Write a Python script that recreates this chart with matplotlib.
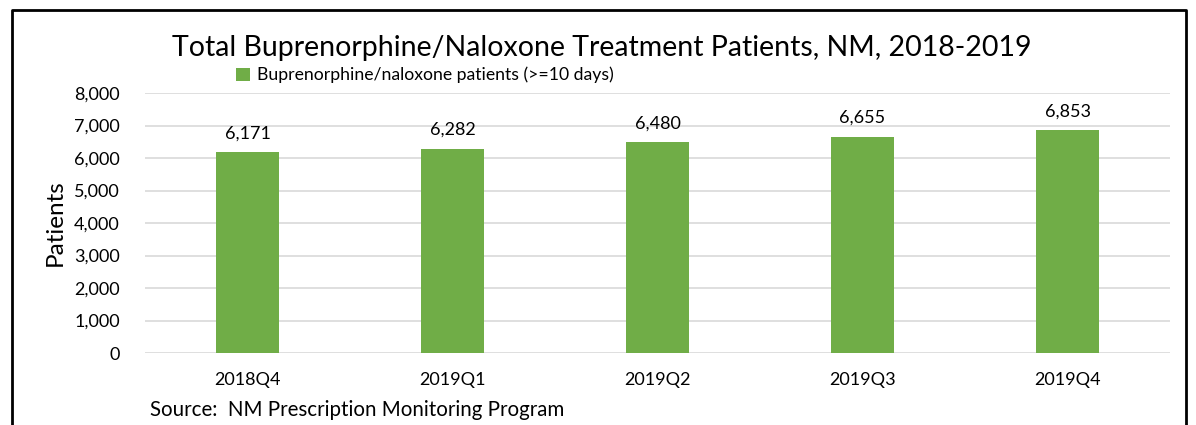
import matplotlib.pyplot as plt
from matplotlib.lines import Line2D
import numpy as np

# Data
quarters = ['2018Q4', '2019Q1', '2019Q2', '2019Q3', '2019Q4']
patients = [6171, 6282, 6480, 6655, 6853]
yticks = [0, 1000, 2000, 3000, 4000, 5000, 6000, 7000, 8000]

plt.rcParams['font.family'] = ['Lato', 'DejaVu Sans']

fig = plt.figure(figsize=(11.96, 4.25), dpi=100)
ax = fig.add_axes([145/1196, 1 - 353/425, 1025/1196, 260/425])

x = np.arange(len(quarters))
bars = ax.bar(x, patients, width=0.31, color='#70AD47', zorder=3,
              label='Buprenorphine/naloxone patients (>=10 days)')

# value labels above bars
for xi, v in zip(x, patients):
    ax.text(xi, v + 330, f'{v:,}', ha='center', va='bottom', fontsize=13, color='#000000')

ax.set_xlim(-0.5, len(quarters) - 0.5)
ax.set_ylim(0, 8000)
ax.set_yticks(yticks)
ax.set_yticklabels([f'{t:,}' for t in yticks], fontsize=13)
ax.set_xticks(x)
ax.set_xticklabels(quarters, fontsize=13)
ax.tick_params(axis='y', length=0, pad=18)
ax.tick_params(axis='x', length=0, pad=14)
ax.grid(axis='y', color='#D9D9D9', linewidth=1.2, zorder=0)
for s in ax.spines.values():
    s.set_visible(False)

ax.set_ylabel('Patients', fontsize=17.5, labelpad=6)
fig.text(0.503, 1 - 48/425, 'Total Buprenorphine/Naloxone Treatment Patients, NM, 2018-2019',
         ha='center', va='center', fontsize=20.5)
ax.legend(loc='center', bbox_to_anchor=(425/1196, 1 - 75/425), bbox_transform=fig.transFigure,
          frameon=False, fontsize=12.7, handlelength=0.75, handleheight=0.75, handletextpad=0.4,
          borderpad=0)
fig.text(150/1196, 1 - 410/425, 'Source:  NM Prescription Monitoring Program',
         ha='left', va='center', fontsize=14.8)

# outer border (open at the bottom)
bx0, bx1, by0 = 12/1196, 1186/1196, 1 - 10/425
fig.add_artist(Line2D([bx0, bx0, bx1, bx1], [0, by0, by0, 0], transform=fig.transFigure,
                      color='black', linewidth=2))

fig.savefig('out.png', dpi=100)
